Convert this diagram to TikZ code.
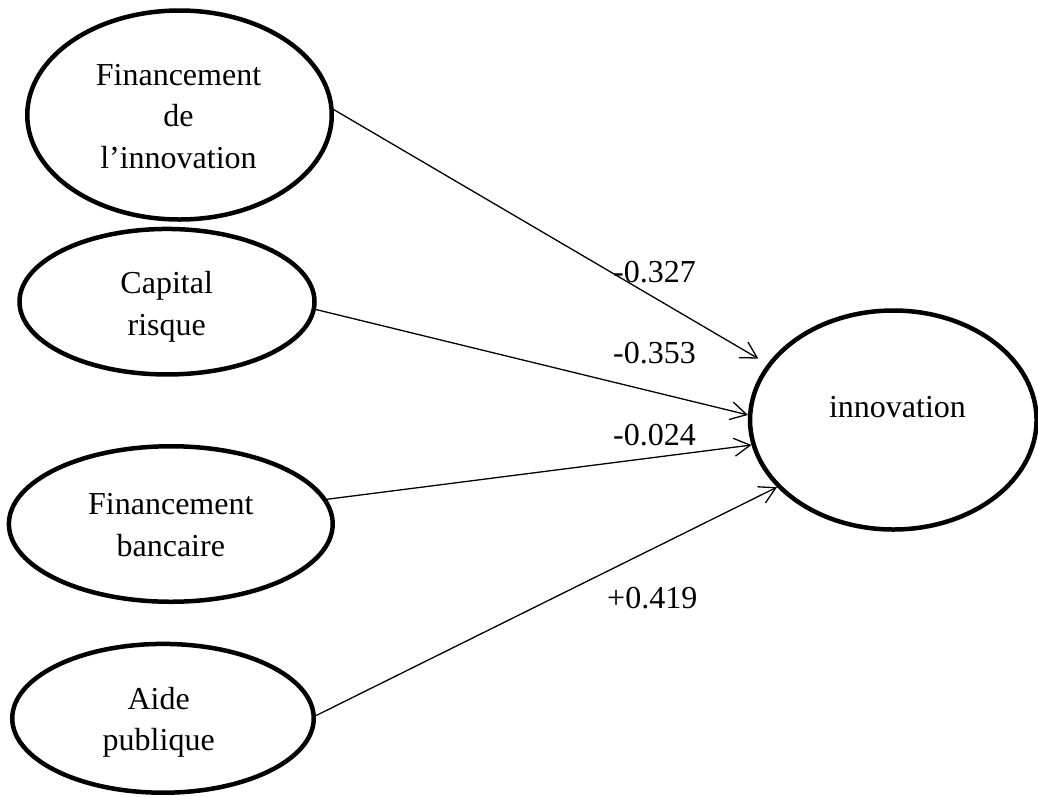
\documentclass[tikz,border=0pt]{standalone}
\usepackage{fontspec}
\setmainfont{Liberation Serif}
\usetikzlibrary{shapes.geometric,arrows.meta}
\begin{document}
\begin{tikzpicture}[x=1pt,y=-1pt,
  latent/.style={ellipse,draw,line width=4.5pt,inner sep=0pt},
  caption/.style={align=center,inner sep=0pt,font=\fontsize{32}{41.7}\selectfont},
  coef/.style={anchor=base west,inner sep=0pt,font=\fontsize{32}{41.7}\selectfont},
  link/.style={line width=1.3pt,-{Straight Barb[length=16pt,width=18pt]}}]
\useasboundingbox (0,0) rectangle (1038,796);

% latent variables
\node[latent,minimum width=304.5pt,minimum height=209pt] (fi) at (179.5,115) {};
\node[latent,minimum width=295pt,minimum height=145.5pt] (cr) at (167,301.7) {};
\node[latent,minimum width=323.8pt,minimum height=155.5pt] (fb) at (170.8,524) {};
\node[latent,minimum width=301.5pt,minimum height=148.8pt] (ap) at (163,718.3) {};
\node[latent,minimum width=286.5pt,minimum height=219pt] (inno) at (893.3,420) {};

% their names
\node[caption] (fi-t) at (178.5,116.5) {Financement\\de\\l’innovation};
\node[caption] (cr-t) at (166.7,306.5) {Capital\\risque};
\node[caption] (fb-t) at (170.8,525) {Financement\\bancaire};
\node[caption] (ap-t) at (158.7,722.3) {Aide\\publique};
\node[caption] (inno-t) at (897.5,407.5) {innovation};

% paths to innovation
\draw[link,shorten >=10.5pt] (fi.2) -- (inno.156);
\draw[link] (cr.-3) -- (inno.178);
\draw[link] (fb.9.4) -- (inno.190);
\draw[link] (ap.1) -- (inno.210.6);

% path coefficients
\node[coef] (c1) at (613,282) {-0.327};
\node[coef] (c2) at (613,363) {-0.353};
\node[coef] (c3) at (613,445) {-0.024};
\node[coef] (c4) at (607,608) {+0.419};
\end{tikzpicture}
\end{document}
